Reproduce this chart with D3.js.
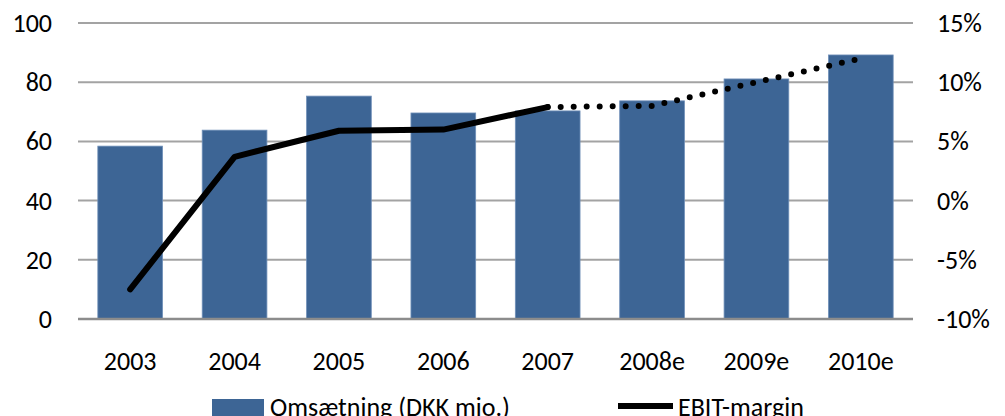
<!DOCTYPE html>
<html><head><meta charset="utf-8">
<script src="https://cdn.jsdelivr.net/npm/d3@7"></script>
<style>body{margin:0;background:#fff;} svg{display:block;}</style>
</head><body>
<script>
const categories = ["2003","2004","2005","2006","2007","2008e","2009e","2010e"];
const revenue = [58.4, 63.8, 75.3, 69.6, 70.3, 73.7, 81.1, 89.2];
const ebitMargin = [-7.5, 3.7, 5.9, 6.0, 7.9, 8.0, 10.0, 12.0];
const leftTicks = [0, 20, 40, 60, 80, 100];
const rightTicks = [-10, -5, 0, 5, 10, 15];
const actualCount = 5; // 2003-2007 solid, rest estimates dotted

const W = 1005, H = 416;
const font = "Carlito, Lato, sans-serif";
const fs = 26;
const svg = d3.select("body").append("svg").attr("width", W).attr("height", H);

const x = d3.scaleBand().domain(categories).range([78, 913]).paddingInner(0.38).paddingOuter(0.19);
const yL = d3.scaleLinear().domain([0, 100]).range([319, 23]);
const yR = d3.scaleLinear().domain([-10, 15]).range([319, 23]);

// gridlines
svg.append("g").selectAll("line").data(leftTicks.filter(d => d > 0)).join("line")
  .attr("x1", 78).attr("x2", 913).attr("y1", d => yL(d)).attr("y2", d => yL(d))
  .attr("stroke", "#a3a3a3").attr("stroke-width", 2);

// bars
svg.append("g").selectAll("rect").data(categories).join("rect")
  .attr("x", d => x(d)).attr("width", x.bandwidth())
  .attr("y", (d, i) => yL(revenue[i])).attr("height", (d, i) => yL(0) - yL(revenue[i]))
  .attr("fill", "#3d6595").attr("stroke", "#6f8fb8").attr("stroke-width", 0.8);

// baseline axis
svg.append("line").attr("x1", 78).attr("x2", 913).attr("y1", yL(0)).attr("y2", yL(0))
  .attr("stroke", "#8c8c8c").attr("stroke-width", 2.5);

// left axis labels
svg.append("g").selectAll("text").data(leftTicks).join("text")
  .attr("x", 52).attr("y", d => yL(d)).attr("text-anchor", "end").attr("dominant-baseline", "central")
  .attr("font-family", font).attr("font-size", fs).attr("fill", "#000").text(d => d);

// right axis labels
svg.append("g").selectAll("text").data(rightTicks).join("text")
  .attr("x", 937).attr("y", d => yR(d)).attr("text-anchor", "start").attr("dominant-baseline", "central")
  .attr("font-family", font).attr("font-size", fs).attr("fill", "#000").text(d => d + "%");

// x labels
svg.append("g").selectAll("text").data(categories).join("text")
  .attr("x", d => x(d) + x.bandwidth() / 2).attr("y", 361).attr("text-anchor", "middle")
  .attr("dominant-baseline", "central")
  .attr("font-family", font).attr("font-size", fs).attr("fill", "#000").text(d => d);

// EBIT line
const pts = categories.map((c, i) => [x(c) + x.bandwidth() / 2, yR(ebitMargin[i])]);
const line = d3.line();
svg.append("path").attr("d", line(pts.slice(0, actualCount)))
  .attr("fill", "none").attr("stroke", "#000").attr("stroke-width", 6)
  .attr("stroke-linecap", "round").attr("stroke-linejoin", "round");
svg.append("path").attr("d", line(pts.slice(actualCount - 1)))
  .attr("fill", "none").attr("stroke", "#000").attr("stroke-width", 6)
  .attr("stroke-linecap", "round").attr("stroke-dasharray", "0,13");

// legend
const lg = svg.append("g");
lg.append("rect").attr("x", 212).attr("y", 399).attr("width", 52).attr("height", 20).attr("fill", "#3d6595");
lg.append("text").attr("x", 270).attr("y", 416).attr("font-family", font).attr("font-size", fs)
  .attr("fill", "#000").text("Omsætning (DKK mio.)");
lg.append("line").attr("x1", 618).attr("x2", 673).attr("y1", 406).attr("y2", 406)
  .attr("stroke", "#000").attr("stroke-width", 6);
lg.append("text").attr("x", 678).attr("y", 416).attr("font-family", font).attr("font-size", fs)
  .attr("fill", "#000").text("EBIT-margin");
</script>
</body></html>
